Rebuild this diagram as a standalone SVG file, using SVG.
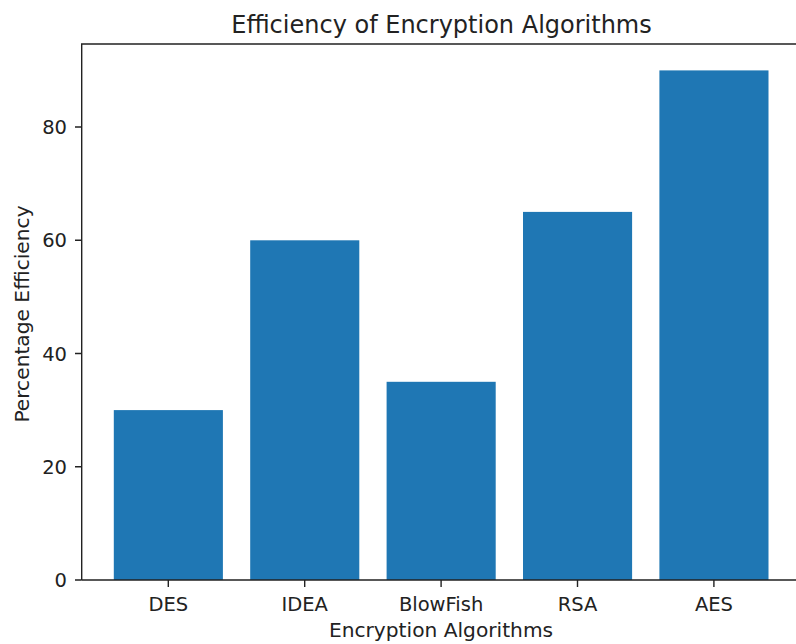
<svg xmlns="http://www.w3.org/2000/svg" width="796" height="644" viewBox="0 0 796 644">
<style>
text{font-family:"DejaVu Sans",sans-serif;fill:#222}
.tick{font-size:19.5px}
.lab{font-size:20.2px}
.title{font-size:24px}
.bar{fill:#1f77b4}
.spine{stroke:#222;stroke-width:1.4;fill:none}
.tk{stroke:#222;stroke-width:1.4}
</style>
<rect width="796" height="644" fill="#fff"/>
<g id="bars">
<rect id="bar-DES" class="bar" x="113.8" y="410.1" width="109.1" height="169.9"/>
<rect id="bar-IDEA" class="bar" x="250.2" y="240.3" width="109.1" height="339.7"/>
<rect id="bar-BlowFish" class="bar" x="386.6" y="381.8" width="109.1" height="198.2"/>
<rect id="bar-RSA" class="bar" x="523.0" y="211.9" width="109.1" height="368.1"/>
<rect id="bar-AES" class="bar" x="659.4" y="70.4" width="109.1" height="509.6"/>
</g>
<g id="axes">
<path class="spine" d="M81.7,580 V44 H800 M81.7,580 H800"/>
<g id="xticks">
<path class="tk" d="M168.3,580v7 M304.7,580v7 M441.1,580v7 M577.5,580v7 M713.9,580v7"/>
<g class="tick" text-anchor="middle">
<text x="168.3" y="611">DES</text>
<text x="304.7" y="611">IDEA</text>
<text x="441.1" y="611">BlowFish</text>
<text x="577.5" y="611">RSA</text>
<text x="713.9" y="611">AES</text>
</g>
</g>
<g id="yticks">
<path class="tk" d="M75,580h6.7 M75,466.75h6.7 M75,353.5h6.7 M75,240.25h6.7 M75,127h6.7"/>
<g class="tick" text-anchor="end">
<text x="67" y="587">0</text>
<text x="67" y="473.75">20</text>
<text x="67" y="360.5">40</text>
<text x="67" y="247.25">60</text>
<text x="67" y="134">80</text>
</g>
</g>
</g>
<text class="title" x="441.5" y="32.5" text-anchor="middle">Efficiency of Encryption Algorithms</text>
<text class="lab" x="441" y="636.5" text-anchor="middle">Encryption Algorithms</text>
<text class="lab" transform="translate(28.5,314) rotate(-90)" text-anchor="middle">Percentage Efficiency</text>
</svg>
